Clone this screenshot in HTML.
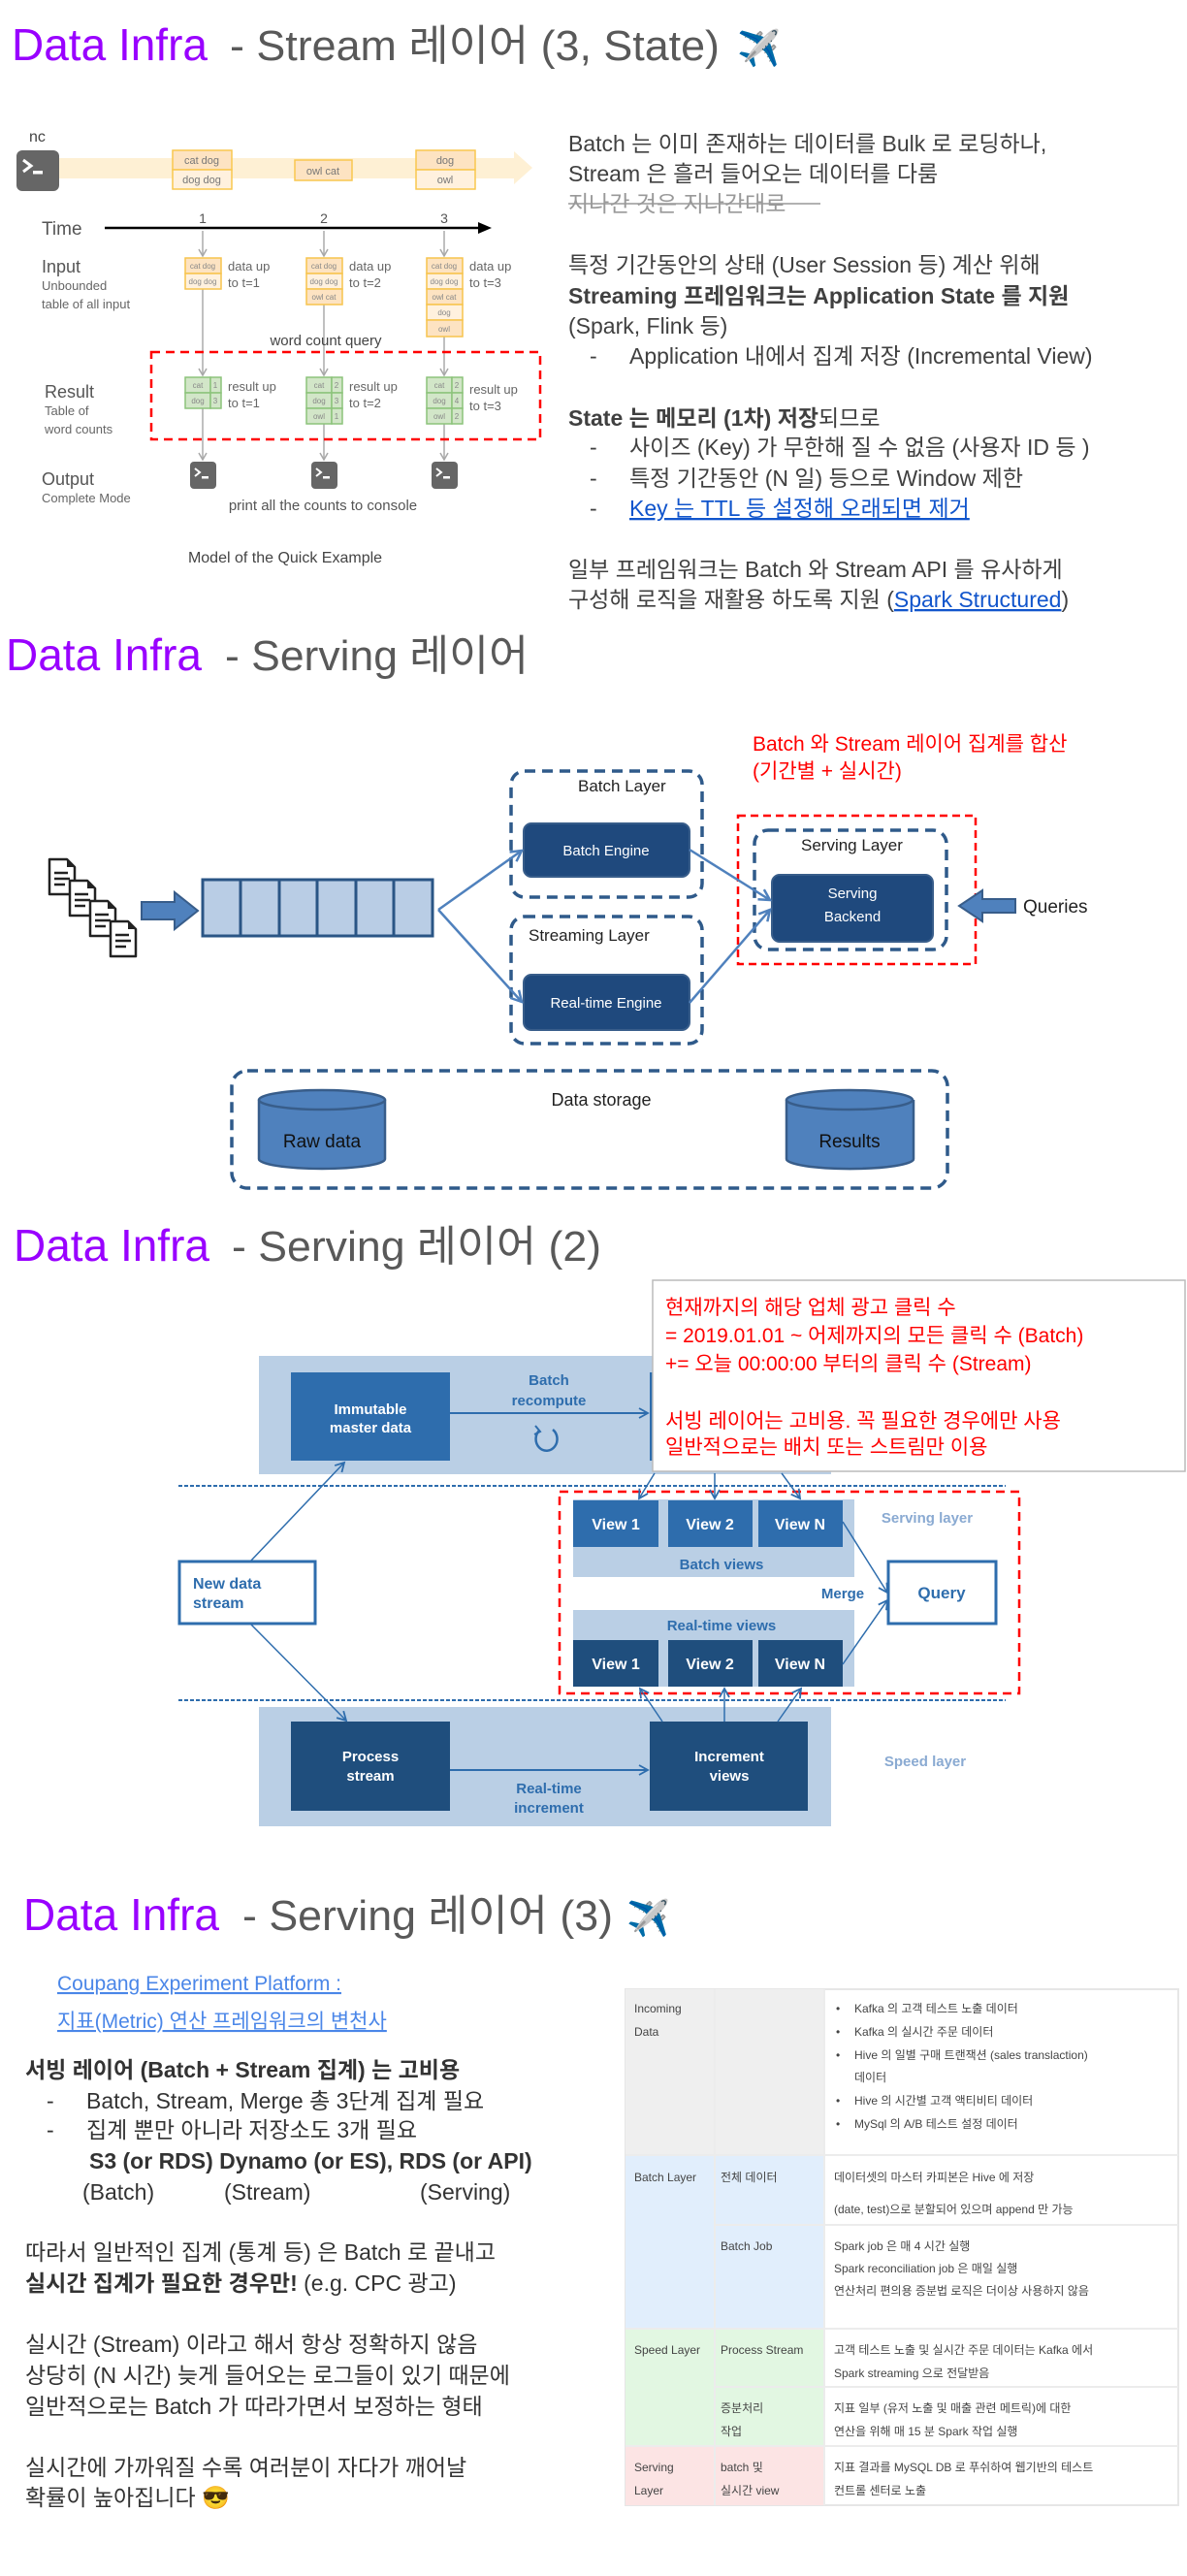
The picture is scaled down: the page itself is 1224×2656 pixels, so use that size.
<!DOCTYPE html>
<html><head><meta charset="utf-8"><style>
html,body{margin:0;padding:0;background:#fff;}
svg{display:block;}
text{font-family:"Liberation Sans","Noto Sans CJK KR",sans-serif;}
</style></head><body>
<svg width="1224" height="2656" viewBox="0 0 1224 2656" xmlns="http://www.w3.org/2000/svg">
<defs>
<marker id="ag" markerWidth="10" markerHeight="10" refX="8" refY="5" orient="auto" markerUnits="userSpaceOnUse"><path d="M1,1 L8,5 L1,9" fill="none" stroke="#a8a8a8" stroke-width="1.5"/></marker>
<marker id="ab" markerWidth="14" markerHeight="14" refX="12" refY="7" orient="auto" markerUnits="userSpaceOnUse"><path d="M1,1 L12,7 L1,13" fill="none" stroke="#4f81bd" stroke-width="2.5"/></marker>
<marker id="ad" markerWidth="12" markerHeight="12" refX="10" refY="6" orient="auto" markerUnits="userSpaceOnUse"><path d="M1,1 L10,6 L1,11" fill="none" stroke="#2e6dad" stroke-width="1.8"/></marker>
<g id="term"><rect x="0" y="0" width="27" height="28" rx="4" fill="#666"/><path d="M5,7 L10,11 L5,15" fill="none" stroke="#fff" stroke-width="2"/><rect x="12" y="15" width="7" height="2.5" fill="#fff"/></g>
<g id="doc"><path d="M2,2 L20,2 L28,10 L28,38 L2,38 Z" fill="#fff" stroke="#222" stroke-width="2.5" stroke-linejoin="round"/><path d="M20,2 L28,10 L20,10 Z" fill="#222"/><path d="M7,16 H21 M7,22 H23 M7,28 H18" stroke="#222" stroke-width="2.5"/></g>
</defs>

<!-- ================= SECTION 1 ================= -->
<text x="12" y="62" font-size="46" fill="#9900ff">Data Infra</text>
<text x="237" y="62" font-size="44" fill="#595959" textLength="505" lengthAdjust="spacingAndGlyphs"> - Stream 레이어 (3, State)</text>
<text x="760" y="62" font-size="36">✈️</text>

<!-- stream band -->
<path d="M61,163 L530,163 L530,156 L549,173 L530,190 L530,184 L61,184 Z" fill="#fef0d4"/>
<text x="30" y="146" font-size="16" fill="#444">nc</text>
<rect x="17" y="155" width="44" height="42" rx="6" fill="#666"/>
<path d="M24,165 L32,171 L24,177" fill="none" stroke="#fff" stroke-width="3"/><rect x="34" y="176" width="10" height="3.5" fill="#fff"/>
<g font-size="11" fill="#777" text-anchor="middle">
<rect x="178" y="155" width="61" height="20" fill="#fde3c2" stroke="#f9c74f" stroke-width="1.5"/><rect x="178" y="175" width="61" height="20" fill="#fff1de" stroke="#f9c74f" stroke-width="1.5"/>
<text x="208" y="169">cat dog</text><text x="208" y="189">dog dog</text>
<rect x="304" y="165" width="59" height="21" fill="#fde3c2" stroke="#f9c74f" stroke-width="1.5"/><text x="333" y="180">owl cat</text>
<rect x="429" y="155" width="61" height="20" fill="#fde3c2" stroke="#f9c74f" stroke-width="1.5"/><rect x="429" y="175" width="61" height="20" fill="#fff1de" stroke="#f9c74f" stroke-width="1.5"/>
<text x="459" y="169">dog</text><text x="459" y="189">owl</text>
</g>
<!-- time axis -->
<text x="43" y="242" font-size="19" fill="#555">Time</text>
<line x1="108" y1="235" x2="495" y2="235" stroke="#000" stroke-width="2.5"/>
<path d="M493,229 L507,235 L493,241 Z" fill="#000"/>
<g font-size="14" fill="#555" text-anchor="middle"><text x="209" y="230">1</text><text x="334" y="230">2</text><text x="458" y="230">3</text></g>
<!-- gray verticals -->
<g stroke="#aaa" stroke-width="1.5">
<line x1="209" y1="238" x2="209" y2="264" marker-end="url(#ag)"/><line x1="334" y1="238" x2="334" y2="264" marker-end="url(#ag)"/><line x1="458" y1="238" x2="458" y2="264" marker-end="url(#ag)"/>
<line x1="209" y1="298" x2="209" y2="387" marker-end="url(#ag)"/><line x1="334" y1="314" x2="334" y2="387" marker-end="url(#ag)"/><line x1="458" y1="347" x2="458" y2="387" marker-end="url(#ag)"/>
<line x1="209" y1="421" x2="209" y2="474" marker-end="url(#ag)"/><line x1="334" y1="437" x2="334" y2="474" marker-end="url(#ag)"/><line x1="458" y1="437" x2="458" y2="474" marker-end="url(#ag)"/>
</g>
<!-- input labels -->
<text x="43" y="281" font-size="18" fill="#555">Input</text>
<text x="43" y="299" font-size="13" fill="#666">Unbounded</text>
<text x="43" y="318" font-size="13" fill="#666">table of all input</text>
<g font-size="8" fill="#888" text-anchor="middle">
<g stroke="#f7c44d" stroke-width="1.5">
<rect x="191" y="266" width="37" height="16" fill="#fde3c2"/><rect x="191" y="282" width="37" height="16" fill="#fff1de"/>
<rect x="316" y="266" width="37" height="16" fill="#fde3c2"/><rect x="316" y="282" width="37" height="16" fill="#fff1de"/><rect x="316" y="298" width="37" height="16" fill="#fde3c2"/>
<rect x="440" y="266" width="37" height="16" fill="#fde3c2"/><rect x="440" y="282" width="37" height="16" fill="#fff1de"/><rect x="440" y="298" width="37" height="16" fill="#fde3c2"/><rect x="440" y="314" width="37" height="16" fill="#fff1de"/><rect x="440" y="330" width="37" height="17" fill="#fde3c2"/>
</g>
<text x="209" y="277">cat dog</text><text x="209" y="293">dog dog</text>
<text x="334" y="277">cat dog</text><text x="334" y="293">dog dog</text><text x="334" y="309">owl cat</text>
<text x="458" y="277">cat dog</text><text x="458" y="293">dog dog</text><text x="458" y="309">owl cat</text><text x="458" y="325">dog</text><text x="458" y="342">owl</text>
</g>
<g font-size="13" fill="#666">
<text x="235" y="279">data up</text><text x="235" y="296">to t=1</text>
<text x="360" y="279">data up</text><text x="360" y="296">to t=2</text>
<text x="484" y="279">data up</text><text x="484" y="296">to t=3</text>
</g>
<text x="336" y="356" font-size="15" fill="#444" text-anchor="middle">word count query</text>
<rect x="156" y="363" width="401" height="90" fill="none" stroke="#ff0000" stroke-width="2.5" stroke-dasharray="9,6"/>
<text x="46" y="410" font-size="18" fill="#555">Result</text>
<text x="46" y="428" font-size="13" fill="#666">Table of</text>
<text x="46" y="447" font-size="13" fill="#666">word counts</text>
<g stroke="#8cc37a" stroke-width="1.5" fill="#d2e6c8">
<rect x="191" y="389" width="26" height="16"/><rect x="217" y="389" width="11" height="16"/><rect x="191" y="405" width="26" height="16"/><rect x="217" y="405" width="11" height="16"/>
<rect x="316" y="389" width="26" height="16"/><rect x="342" y="389" width="11" height="16"/><rect x="316" y="405" width="26" height="16"/><rect x="342" y="405" width="11" height="16"/><rect x="316" y="421" width="26" height="16"/><rect x="342" y="421" width="11" height="16"/>
<rect x="440" y="389" width="26" height="16"/><rect x="466" y="389" width="11" height="16"/><rect x="440" y="405" width="26" height="16"/><rect x="466" y="405" width="11" height="16"/><rect x="440" y="421" width="26" height="16"/><rect x="466" y="421" width="11" height="16"/>
</g>
<g font-size="8" fill="#888" text-anchor="middle">
<text x="204" y="400">cat</text><text x="222" y="400">1</text><text x="204" y="416">dog</text><text x="222" y="416">3</text>
<text x="329" y="400">cat</text><text x="347" y="400">2</text><text x="329" y="416">dog</text><text x="347" y="416">3</text><text x="329" y="432">owl</text><text x="347" y="432">1</text>
<text x="453" y="400">cat</text><text x="471" y="400">2</text><text x="453" y="416">dog</text><text x="471" y="416">4</text><text x="453" y="432">owl</text><text x="471" y="432">2</text>
</g>
<g font-size="13" fill="#666">
<text x="235" y="403">result up</text><text x="235" y="420">to t=1</text>
<text x="360" y="403">result up</text><text x="360" y="420">to t=2</text>
<text x="484" y="406">result up</text><text x="484" y="423">to t=3</text>
</g>
<text x="43" y="500" font-size="18" fill="#555">Output</text>
<text x="43" y="518" font-size="13" fill="#666">Complete Mode</text>
<use href="#term" x="196" y="476"/><use href="#term" x="321" y="476"/><use href="#term" x="445" y="476"/>
<text x="333" y="526" font-size="15" fill="#555" text-anchor="middle">print all the counts to console</text>
<text x="294" y="580" font-size="16" fill="#444" text-anchor="middle">Model of the Quick Example</text>

<!-- right text section 1 -->
<g font-size="23" fill="#404040">
<text x="586" y="156">Batch 는 이미 존재하는 데이터를 Bulk 로 로딩하나,</text>
<text x="586" y="187">Stream 은 흘러 들어오는 데이터를 다룸</text>
<text x="586" y="218" fill="#999">지나간 것은 지나간대로</text>
<line x1="586" y1="210" x2="846" y2="210" stroke="#999" stroke-width="1.5"/>
<text x="586" y="281">특정 기간동안의 상태 (User Session 등) 계산  위해</text>
<text x="586" y="313" font-weight="bold">Streaming 프레임워크는 Application State 를 지원</text>
<text x="586" y="344">(Spark, Flink 등)</text>
<text x="608" y="375">-</text><text x="649" y="375">Application 내에서 집계 저장 (Incremental View)</text>
<text x="586" y="439"><tspan font-weight="bold">State 는 메모리 (1차) 저장</tspan>되므로</text>
<text x="608" y="469">-</text><text x="649" y="469">사이즈 (Key) 가 무한해 질 수 없음 (사용자 ID 등 )</text>
<text x="608" y="501">-</text><text x="649" y="501">특정 기간동안 (N 일) 등으로 Window 제한</text>
<text x="608" y="532">-</text><text x="649" y="532" fill="#1155cc" text-decoration="underline">Key 는 TTL 등 설정해 오래되면 제거</text>
<text x="586" y="595">일부 프레임워크는 Batch 와 Stream API 를 유사하게</text>
<text x="586" y="626">구성해 로직을 재활용 하도록 지원 (<tspan fill="#1155cc" text-decoration="underline">Spark Structured</tspan>)</text>
</g>

<!-- ================= SECTION 2 ================= -->
<text x="6" y="691" font-size="46" fill="#9900ff">Data Infra</text>
<text x="232" y="691" font-size="44" fill="#595959" textLength="313" lengthAdjust="spacingAndGlyphs"> - Serving 레이어</text>

<text x="776" y="774" font-size="21" fill="#ff0000">Batch 와 Stream 레이어 집계를 합산</text>
<text x="776" y="802" font-size="21" fill="#ff0000">(기간별 + 실시간)</text>

<use href="#doc" x="49" y="884"/><use href="#doc" x="70" y="906"/><use href="#doc" x="91" y="927"/><use href="#doc" x="112" y="948"/>
<path d="M146,930 L180,930 L180,920 L204,939 L180,958 L180,948 L146,948 Z" fill="#4f81bd" stroke="#385d8a" stroke-width="2"/>
<rect x="209" y="907" width="237" height="58" fill="#b9cde5" stroke="#2a5585" stroke-width="3"/>
<g stroke="#2a5585" stroke-width="3"><line x1="248" y1="907" x2="248" y2="965"/><line x1="288" y1="907" x2="288" y2="965"/><line x1="327" y1="907" x2="327" y2="965"/><line x1="367" y1="907" x2="367" y2="965"/><line x1="406" y1="907" x2="406" y2="965"/></g>

<g fill="none" stroke="#2f5a8a" stroke-width="3.5" stroke-dasharray="11,7">
<rect x="527" y="795" width="197" height="130" rx="14"/>
<rect x="527" y="945" width="197" height="131" rx="14"/>
<rect x="778" y="856" width="198" height="123" rx="14"/>
<rect x="239" y="1104" width="738" height="121" rx="16"/>
</g>
<rect x="761" y="841" width="245" height="153" fill="none" stroke="#ff0000" stroke-width="2.5" stroke-dasharray="8,5"/>
<text x="596" y="816" font-size="17" fill="#222">Batch Layer</text>
<text x="545" y="970" font-size="17" fill="#222">Streaming Layer</text>
<text x="826" y="877" font-size="17" fill="#222">Serving Layer</text>
<g fill="#1f497d" stroke="#385d8a" stroke-width="2">
<rect x="540" y="849" width="171" height="55" rx="8"/>
<rect x="540" y="1005" width="171" height="57" rx="8"/>
<rect x="796" y="902" width="166" height="69" rx="8"/>
</g>
<g fill="#fff" font-size="15" text-anchor="middle">
<text x="625" y="882">Batch Engine</text>
<text x="625" y="1039">Real-time Engine</text>
<text x="879" y="926">Serving</text><text x="879" y="950">Backend</text>
</g>
<g stroke="#4f81bd" stroke-width="2.5" fill="none">
<line x1="452" y1="938" x2="538" y2="877" marker-end="url(#ab)"/>
<line x1="452" y1="938" x2="538" y2="1033" marker-end="url(#ab)"/>
<line x1="711" y1="876" x2="794" y2="928" marker-end="url(#ab)"/>
<line x1="711" y1="1034" x2="794" y2="938" marker-end="url(#ab)"/>
</g>
<path d="M1047,927 L1013,927 L1013,918 L989,934 L1013,950 L1013,941 L1047,941 Z" fill="#4f81bd" stroke="#385d8a" stroke-width="2"/>
<text x="1055" y="941" font-size="19" fill="#222">Queries</text>
<text x="620" y="1140" font-size="18" fill="#222" text-anchor="middle">Data storage</text>
<g fill="#4f81bd" stroke="#385d8a" stroke-width="2.5">
<path d="M267,1134 L267,1195 A65,10 0 0 0 397,1195 L397,1134"/>
<ellipse cx="332" cy="1134" rx="65" ry="10"/>
<path d="M811,1134 L811,1195 A65,10 0 0 0 942,1195 L942,1134"/>
<ellipse cx="876" cy="1134" rx="65" ry="10"/>
</g>
<text x="332" y="1183" font-size="19" fill="#111" text-anchor="middle">Raw data</text>
<text x="876" y="1183" font-size="19" fill="#111" text-anchor="middle">Results</text>

<!-- ================= SECTION 3 ================= -->
<text x="14" y="1300" font-size="46" fill="#9900ff">Data Infra</text>
<text x="239" y="1300" font-size="44" fill="#595959" textLength="381" lengthAdjust="spacingAndGlyphs"> - Serving 레이어 (2)</text>

<rect x="267" y="1398" width="590" height="122" fill="#bacfe5"/>
<rect x="300" y="1415" width="164" height="91" fill="#2e6dad"/>
<rect x="670" y="1415" width="163" height="91" fill="#2e6dad"/>
<g fill="#fff" font-size="15" font-weight="bold" text-anchor="middle"><text x="382" y="1458">Immutable</text><text x="382" y="1477">master data</text></g>
<g fill="#2e6dad" font-size="15" font-weight="bold" text-anchor="middle"><text x="566" y="1428">Batch</text><text x="566" y="1449">recompute</text></g>
<line x1="464" y1="1457" x2="668" y2="1457" stroke="#2e6dad" stroke-width="2" marker-end="url(#ad)"/>
<path d="M556,1475 A11,12 0 1 0 570,1474" fill="none" stroke="#2e6dad" stroke-width="2.5"/><path d="M552,1470 L557,1476 L551,1479" fill="none" stroke="#2e6dad" stroke-width="2"/>

<line x1="184" y1="1532" x2="1037" y2="1532" stroke="#2e6dad" stroke-width="2" stroke-dasharray="4,2"/>
<line x1="184" y1="1753" x2="1037" y2="1753" stroke="#2e6dad" stroke-width="2" stroke-dasharray="4,2"/>

<rect x="591" y="1546" width="290" height="80" fill="#bacfe5"/>
<rect x="591" y="1660" width="290" height="79" fill="#bacfe5"/>
<g fill="#2e6dad"><rect x="591" y="1547" width="88" height="48"/><rect x="689" y="1547" width="87" height="48"/><rect x="782" y="1547" width="87" height="48"/></g>
<g fill="#1f4e7d"><rect x="591" y="1691" width="88" height="48"/><rect x="689" y="1691" width="87" height="48"/><rect x="782" y="1691" width="87" height="48"/></g>
<g fill="#fff" font-size="16" font-weight="bold" text-anchor="middle">
<text x="635" y="1577">View 1</text><text x="732" y="1577">View 2</text><text x="825" y="1577">View N</text>
<text x="635" y="1721">View 1</text><text x="732" y="1721">View 2</text><text x="825" y="1721">View N</text>
</g>
<g fill="#2e6dad" font-size="15" font-weight="bold" text-anchor="middle">
<text x="744" y="1618">Batch views</text><text x="744" y="1681">Real-time views</text>
<text x="869" y="1648">Merge</text>
</g>
<text x="956" y="1570" font-size="15" font-weight="bold" fill="#8aaad2" text-anchor="middle">Serving layer</text>
<text x="954" y="1821" font-size="15" font-weight="bold" fill="#8aaad2" text-anchor="middle">Speed layer</text>
<rect x="916" y="1610" width="111" height="64" fill="#fff" stroke="#2e6dad" stroke-width="3"/>
<text x="971" y="1648" font-size="17" font-weight="bold" fill="#2e6dad" text-anchor="middle">Query</text>
<rect x="185" y="1610" width="140" height="64" fill="#fff" stroke="#2e6dad" stroke-width="3"/>
<text x="199" y="1638" font-size="16" font-weight="bold" fill="#2e6dad">New data</text>
<text x="199" y="1658" font-size="16" font-weight="bold" fill="#2e6dad">stream</text>
<rect x="577" y="1538" width="474" height="208" fill="none" stroke="#ff0000" stroke-width="2.5" stroke-dasharray="9,6"/>

<rect x="267" y="1760" width="590" height="123" fill="#bacfe5"/>
<rect x="300" y="1775" width="164" height="92" fill="#1f4e7d"/>
<rect x="670" y="1775" width="163" height="92" fill="#1f4e7d"/>
<g fill="#fff" font-size="15" font-weight="bold" text-anchor="middle"><text x="382" y="1816">Process</text><text x="382" y="1836">stream</text>
<text x="752" y="1816">Increment</text><text x="752" y="1836">views</text></g>
<g fill="#2e6dad" font-size="15" font-weight="bold" text-anchor="middle"><text x="566" y="1849">Real-time</text><text x="566" y="1869">increment</text></g>
<line x1="464" y1="1825" x2="668" y2="1825" stroke="#2e6dad" stroke-width="2" marker-end="url(#ad)"/>

<g stroke="#2e6dad" stroke-width="1.5" fill="none">
<line x1="258" y1="1610" x2="355" y2="1508" marker-end="url(#ad)"/>
<line x1="258" y1="1674" x2="357" y2="1774" marker-end="url(#ad)"/>
<line x1="675" y1="1519" x2="659" y2="1545" marker-end="url(#ad)"/>
<line x1="737" y1="1519" x2="737" y2="1545" marker-end="url(#ad)"/>
<line x1="806" y1="1519" x2="825" y2="1545" marker-end="url(#ad)"/>
<line x1="683" y1="1775" x2="660" y2="1741" marker-end="url(#ad)"/>
<line x1="747" y1="1775" x2="747" y2="1741" marker-end="url(#ad)"/>
<line x1="802" y1="1775" x2="826" y2="1741" marker-end="url(#ad)"/>
<line x1="869" y1="1569" x2="915" y2="1642" marker-end="url(#ad)"/>
<line x1="869" y1="1716" x2="915" y2="1650" marker-end="url(#ad)"/>
</g>
<rect x="673" y="1320" width="549" height="197" fill="#fff" stroke="#bbb" stroke-width="1.5"/>
<g fill="#ff0000" font-size="21">
<text x="686" y="1355">현재까지의 해당 업체 광고 클릭 수</text>
<text x="686" y="1384">= 2019.01.01 ~ 어제까지의 모든 클릭 수 (Batch)</text>
<text x="686" y="1413">+= 오늘 00:00:00 부터의 클릭 수 (Stream)</text>
<text x="686" y="1472">서빙 레이어는 고비용. 꼭 필요한 경우에만 사용</text>
<text x="686" y="1499">일반적으로는 배치 또는 스트림만 이용</text>
</g>

<!-- ================= SECTION 4 ================= -->
<text x="24" y="1990" font-size="46" fill="#9900ff">Data Infra</text>
<text x="250" y="1990" font-size="44" fill="#595959" textLength="382" lengthAdjust="spacingAndGlyphs"> - Serving 레이어 (3)</text>
<text x="646" y="1990" font-size="36">✈️</text>

<g font-size="21" fill="#4a86e8" text-decoration="underline">
<text x="59" y="2052">Coupang Experiment Platform :</text>
<text x="59" y="2091">지표(Metric) 연산 프레임워크의 변천사</text>
</g>
<g font-size="23" fill="#333">
<text x="26" y="2142" font-weight="bold">서빙 레이어 (Batch + Stream 집계) 는 고비용</text>
<text x="48" y="2174">-</text><text x="89" y="2174">Batch, Stream, Merge 총 3단계 집계 필요</text>
<text x="48" y="2204">-</text><text x="89" y="2204">집계 뿐만 아니라 저장소도 3개 필요</text>
<text x="92" y="2236" font-weight="bold">S3 (or RDS) Dynamo (or ES), RDS (or API)</text>
<text x="85" y="2268">(Batch)</text><text x="231" y="2268">(Stream)</text><text x="433" y="2268">(Serving)</text>
<text x="26" y="2330">따라서 일반적인 집계 (통계 등) 은 Batch 로 끝내고</text>
<text x="26" y="2362"><tspan font-weight="bold">실시간 집계가 필요한 경우만!</tspan> (e.g. CPC 광고)</text>
<text x="26" y="2425">실시간 (Stream) 이라고 해서 항상 정확하지 않음</text>
<text x="26" y="2457">상당히 (N 시간) 늦게 들어오는 로그들이 있기 때문에</text>
<text x="26" y="2489">일반적으로는 Batch 가 따라가면서 보정하는 형태</text>
<text x="26" y="2552">실시간에 가까워질 수록 여러분이 자다가 깨어날</text>
<text x="26" y="2583">확률이 높아집니다 😎</text>
</g>

<!-- table -->
<g>
<rect x="645" y="2051" width="570" height="532" fill="#fff" stroke="#e6e6e6" stroke-width="2"/>
<rect x="645" y="2051" width="205" height="171" fill="#efefef"/>
<rect x="645" y="2222" width="205" height="179" fill="#e1eefc"/>
<rect x="645" y="2401" width="205" height="121" fill="#e2f7e2"/>
<rect x="645" y="2522" width="205" height="61" fill="#fce4e4"/>
<g stroke="#ececec" stroke-width="2">
<line x1="737" y1="2051" x2="737" y2="2583"/><line x1="850" y1="2051" x2="850" y2="2583"/>
<line x1="645" y1="2222" x2="1215" y2="2222"/><line x1="737" y1="2294" x2="1215" y2="2294"/>
<line x1="645" y1="2401" x2="1215" y2="2401"/><line x1="737" y1="2461" x2="1215" y2="2461"/>
<line x1="645" y1="2522" x2="1215" y2="2522"/>
</g>
<g font-size="12" fill="#444">
<text x="654" y="2075">Incoming</text><text x="654" y="2099">Data</text>
<text x="654" y="2249">Batch Layer</text><text x="743" y="2249">전체 데이터</text>
<text x="743" y="2320">Batch Job</text>
<text x="654" y="2427">Speed Layer</text><text x="743" y="2427">Process Stream</text>
<text x="743" y="2487">증분처리</text><text x="743" y="2511">작업</text>
<text x="654" y="2548">Serving</text><text x="654" y="2572">Layer</text><text x="743" y="2548">batch 및</text><text x="743" y="2572">실시간 view</text>
<text x="862" y="2075">•</text><text x="881" y="2075">Kafka 의 고객 테스트 노출 데이터</text>
<text x="862" y="2099">•</text><text x="881" y="2099">Kafka 의 실시간 주문 데이터</text>
<text x="862" y="2123">•</text><text x="881" y="2123">Hive 의 일별 구매 트랜잭션 (sales translaction)</text>
<text x="881" y="2146">데이터</text>
<text x="862" y="2170">•</text><text x="881" y="2170">Hive 의 시간별 고객 액티비티 데이터</text>
<text x="862" y="2194">•</text><text x="881" y="2194">MySql 의 A/B 테스트 설정 데이터</text>
<text x="860" y="2249">데이터셋의 마스터 카피본은 Hive 에 저장</text>
<text x="860" y="2282">(date, test)으로 분할되어 있으며 append 만 가능</text>
<text x="860" y="2320">Spark job 은 매 4 시간 실행</text>
<text x="860" y="2343">Spark reconciliation job 은 매일 실행</text>
<text x="860" y="2366">연산처리 편의용 증분법 로직은 더이상 사용하지 않음</text>
<text x="860" y="2427">고객 테스트 노출 및 실시간 주문 데이터는 Kafka 에서</text>
<text x="860" y="2451">Spark streaming 으로 전달받음</text>
<text x="860" y="2487">지표 일부 (유저 노출 및 매출 관련 메트릭)에 대한</text>
<text x="860" y="2511">연산을 위해 매 15 분 Spark 작업 실행</text>
<text x="860" y="2548">지표 결과를 MySQL DB 로 푸쉬하여 웹기반의 테스트</text>
<text x="860" y="2572">컨트롤 센터로 노출</text>
</g>
</g>
</svg>
</body></html>
